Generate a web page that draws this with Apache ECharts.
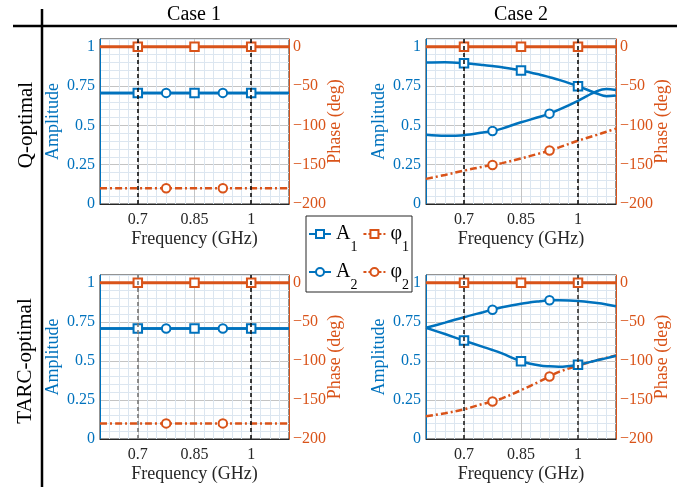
<!DOCTYPE html>
<html>
<head>
<meta charset="utf-8">
<title>Amplitude / phase - Q-optimal vs TARC-optimal</title>
<script src="https://cdn.jsdelivr.net/npm/echarts@6/dist/echarts.min.js"></script>
<style>
html, body { margin: 0; padding: 0; background: #fff; }
#main { width: 694px; height: 487px; }
</style>
</head>
<body>
<div id="main"></div>
<script>
// frequency samples (GHz) the curves were read at
var freq = [0.6, 0.65, 0.7, 0.75, 0.775, 0.8, 0.85, 0.9, 0.925, 0.95, 1.0, 1.05, 1.075, 1.1];
var squareAt = [0.7, 0.85, 1.0];
var circleAt = [0.775, 0.925];
var bandEdges = [0.7, 1.0];
var freqTicks = [0.7, 0.85, 1];

// Case 1 (same for both rows)
var c1Amp  = [0.707, 0.707, 0.707, 0.707, 0.707, 0.707, 0.707, 0.707, 0.707, 0.707, 0.707, 0.707, 0.707, 0.707];
var c1Phi1 = [0, 0, 0, 0, 0, 0, 0, 0, 0, 0, 0, 0, 0, 0];
var c1Phi2 = [-180, -180, -180, -180, -180, -180, -180, -180, -180, -180, -180, -180, -180, -180];

// Case 2, Q-optimal
var qA1   = [0.900, 0.902, 0.896, 0.885, 0.878, 0.870, 0.850, 0.823, 0.807, 0.790, 0.750, 0.703, 0.686, 0.690];
var qA2   = [0.440, 0.434, 0.438, 0.455, 0.465, 0.480, 0.520, 0.555, 0.575, 0.600, 0.657, 0.718, 0.732, 0.725];
var qPhi1 = [0, 0, 0, 0, 0, 0, 0, 0, 0, 0, 0, 0, 0, 0];
var qPhi2 = [-168, -163, -157.5, -152.5, -150.3, -148, -142, -135.5, -132, -128, -119.5, -112, -108, -104];

// Case 2, TARC-optimal
var tA1   = [0.712, 0.672, 0.630, 0.590, 0.570, 0.548, 0.498, 0.470, 0.465, 0.463, 0.476, 0.504, 0.518, 0.533];
var tA2   = [0.712, 0.745, 0.780, 0.812, 0.828, 0.843, 0.866, 0.882, 0.888, 0.888, 0.884, 0.870, 0.861, 0.850];
var tPhi1 = [0, 0, 0, 0, 0, 0, 0, 0, 0, 0, 0, 0, 0, 0];
var tPhi2 = [-171, -167, -162, -155, -152, -148, -137.5, -126, -120, -114, -106, -99, -96, -93];

var BLUE = '#0072BD', ORANGE = '#D95319', INK = '#262626';
var FONT = 'Liberation Serif';
var MAJOR = '#c4c4c4', MINOR = '#dce6f0';

var panels = [
    {left: 100, top: 39, width: 189, height: 165, a1: c1Amp, a2: c1Amp, p1: c1Phi1, p2: c1Phi2, edge: ['#111', '#111']},
    {left: 426, top: 39, width: 190, height: 165, a1: qA1, a2: qA2, p1: qPhi1, p2: qPhi2, edge: ['#111', '#111']},
    {left: 100, top: 275, width: 189, height: 164, a1: c1Amp, a2: c1Amp, p1: tPhi1, p2: c1Phi2, edge: ['#777', '#111']},
    {left: 426, top: 275, width: 190, height: 164, a1: tA1, a2: tA2, p1: tPhi1, p2: tPhi2, edge: ['#222', '#333']}
];

function near(list, v) {
    for (var i = 0; i < list.length; i++) {
        if (Math.abs(list[i] - v) < 1e-6) return true;
    }
    return false;
}

var grids = [], xAxes = [], yAxes = [], series = [];

panels.forEach(function (p, i) {
    grids.push({left: p.left, top: p.top, width: p.width, height: p.height,
        show: true, borderColor: INK, borderWidth: 1, backgroundColor: '#fff'});

    xAxes.push({
        gridIndex: i, type: 'value', min: 0.6, max: 1.1, interval: 0.025,
        axisLine: {show: true, onZero: false, lineStyle: {color: INK}},
        axisTick: {show: false},
        axisLabel: {color: INK, fontFamily: FONT, fontSize: 16, margin: 8,
            formatter: function (v) { return near(freqTicks, v) ? String(Math.round(v * 100) / 100) : ''; }},
        splitLine: {show: true, lineStyle: {width: 1, color: [MINOR, MINOR, MINOR, MINOR, MAJOR, MINOR]}},
        name: 'Frequency (GHz)', nameLocation: 'middle', nameGap: 26, nameMoveOverlap: false,
        nameTextStyle: {color: INK, fontFamily: FONT, fontSize: 18}
    });

    yAxes.push({
        gridIndex: i, type: 'value', position: 'left', min: 0, max: 1.05, interval: 0.05,
        axisLine: {show: true, lineStyle: {color: BLUE}},
        axisTick: {show: false},
        axisLabel: {color: BLUE, fontFamily: FONT, fontSize: 16, margin: 5,
            formatter: function (v) {
                var q = v / 0.25;
                return (Math.abs(q - Math.round(q)) < 1e-6 && v < 1.01) ? String(Math.round(v * 100) / 100) : '';
            }},
        splitLine: {show: true, lineStyle: {width: 1, color: [MAJOR, MINOR, MINOR, MINOR, MINOR]}},
        name: 'Amplitude', nameLocation: 'middle', nameGap: 38, nameMoveOverlap: false,
        nameTextStyle: {color: BLUE, fontFamily: FONT, fontSize: 18}
    });

    yAxes.push({
        gridIndex: i, type: 'value', position: 'right', min: -200, max: 10, interval: 50,
        axisLine: {show: true, lineStyle: {color: ORANGE}},
        axisTick: {show: false},
        axisLabel: {color: ORANGE, fontFamily: FONT, fontSize: 16, margin: 4,
            formatter: function (v) { return v > 0 ? '' : (v < 0 ? '\u2212' + (-v) : '0'); }},
        splitLine: {show: false},
        name: 'Phase (deg)', nameLocation: 'middle', nameGap: 37, nameMoveOverlap: false,
        nameTextStyle: {color: ORANGE, fontFamily: FONT, fontSize: 18}
    });

    function curve(name, yIdx, vals, color, type, width, marks, sym) {
        return {
            name: name, type: 'line', xAxisIndex: i, yAxisIndex: yIdx,
            data: freq.map(function (f, k) { return [f, vals[k]]; }),
            smooth: 0.35,
            symbol: sym,
            symbolSize: function (v) { return near(marks, v[0]) ? 8.5 : 0; },
            itemStyle: {color: color, borderWidth: 1.8},
            lineStyle: {color: color, width: width, type: type},
            emphasis: {disabled: true},
            silent: true
        };
    }

    series.push(curve('φ1', 2 * i + 1, p.p1, ORANGE, 'solid', 3, squareAt, 'emptyRect'));
    series.push(curve('φ2', 2 * i + 1, p.p2, ORANGE, [7, 3, 2, 3], 2.5, circleAt, 'emptyCircle'));
    series.push(curve('A2', 2 * i, p.a2, BLUE, 'solid', 2.5, circleAt, 'emptyCircle'));
    var a1 = curve('A1', 2 * i, p.a1, BLUE, 'solid', 2.5, squareAt, 'emptyRect');
    a1.markLine = {
        silent: true, symbol: 'none', label: {show: false},
        lineStyle: {type: [4, 3], width: 1.6},
        data: bandEdges.map(function (f, k) { return {xAxis: f, lineStyle: {color: p.edge[k]}}; })
    };
    series.push(a1);
});

function legendText(name) {
    return '{m|' + name.charAt(0) + '}{s|' + name.charAt(1) + '}';
}
var legendRich = {
    m: {fontFamily: FONT, fontSize: 20, lineHeight: 40, verticalAlign: 'middle', color: '#000'},
    s: {fontFamily: FONT, fontSize: 14, lineHeight: 14, verticalAlign: 'bottom', color: '#000'}
};
function legendRow(names, top) {
    return {
        left: 308, top: top, orient: 'horizontal', selectedMode: false,
        itemWidth: 22, itemHeight: 10, itemGap: 5, padding: 0,
        data: names.map(function (n) {
            return n.charAt(0) === 'φ' ? {name: n, lineStyle: {type: [3, 2]}} : {name: n};
        }),
        formatter: legendText,
        textStyle: {rich: legendRich}
    };
}

var chart = echarts.init(document.getElementById('main'), null, {renderer: 'canvas'});
chart.setOption({
    animation: false,
    backgroundColor: '#fff',
    grid: grids,
    xAxis: xAxes,
    yAxis: yAxes,
    legend: [legendRow(['A1', 'φ1'], 224), legendRow(['A2', 'φ2'], 262)],
    graphic: [
        {type: 'rect', z: 1, shape: {x: 306, y: 216, width: 106, height: 76},
            style: {fill: '#fff', stroke: INK, lineWidth: 1}},
        {type: 'line', shape: {x1: 13, y1: 26, x2: 677, y2: 26}, style: {stroke: '#000', lineWidth: 2.5}},
        {type: 'line', shape: {x1: 42, y1: 9, x2: 42, y2: 487}, style: {stroke: '#000', lineWidth: 2.5}},
        {type: 'text', x: 194, y: 15, style: {text: 'Case 1', font: '20px "Liberation Serif"', fill: '#000', textAlign: 'center', textVerticalAlign: 'middle'}},
        {type: 'text', x: 521, y: 15, style: {text: 'Case 2', font: '20px "Liberation Serif"', fill: '#000', textAlign: 'center', textVerticalAlign: 'middle'}},
        {type: 'text', x: 26, y: 125, rotation: Math.PI / 2, style: {text: 'Q-optimal', font: '21px "Liberation Serif"', fill: '#000', textAlign: 'center', textVerticalAlign: 'middle'}},
        {type: 'text', x: 25, y: 361, rotation: Math.PI / 2, style: {text: 'TARC-optimal', font: '21px "Liberation Serif"', fill: '#000', textAlign: 'center', textVerticalAlign: 'middle'}}
    ],
    series: series
});
</script>
</body>
</html>
